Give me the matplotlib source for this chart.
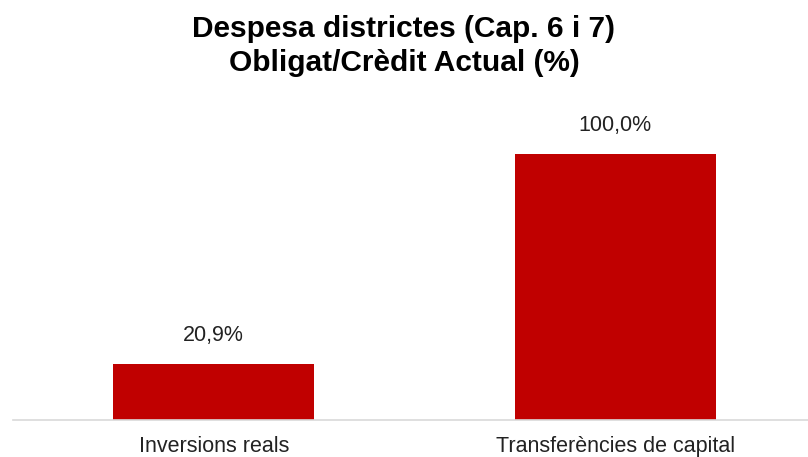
import matplotlib
matplotlib.use("Agg")
from matplotlib import pyplot as plt

categories = ["Inversions reals", "Transferències de capital"]
values = [20.9, 100.0]
value_labels = ["20,9%", "100,0%"]
title_lines = ["Despesa districtes (Cap. 6 i 7)", "Obligat/Crèdit Actual (%)"]

plt.rcParams["font.family"] = ["Liberation Sans", "DejaVu Sans"]

W, H = 808, 457
fig = plt.figure(figsize=(W / 100, H / 100), dpi=100)

# axes placed in pixel terms: baseline at y=419.5, left edge of the axis line at x=13
ax = fig.add_axes([13 / W, 1 - 419.5 / H, (W - 13) / W, (419.5 - 100) / H])

ax.bar(range(len(categories)), values, width=0.5, color="#C00000")
ax.set_xlim(-0.5, 1.48)
ax.set_ylim(0, (419.5 - 100) / 2.655)

for i, (v, lab) in enumerate(zip(values, value_labels)):
    ax.annotate(lab, (i, v), xytext=(0, 13), textcoords="offset points",
                ha="center", va="bottom", fontsize=15.5, color="#222222")

ax.set_xticks(range(len(categories)))
ax.set_xticklabels(categories, fontsize=15.5, color="#222222")
ax.tick_params(axis="x", length=0, pad=12)
ax.set_yticks([])
for s in ["left", "right", "top"]:
    ax.spines[s].set_visible(False)
ax.spines["bottom"].set_color("#d9d9d9")
ax.spines["bottom"].set_linewidth(1.2)

# two title lines, centred on the caps of the reference
for line, yc in zip(title_lines, [26, 60]):
    fig.text(0.5, 1 - yc / H, line, ha="center", va="center_baseline",
             fontsize=21.5, fontweight="bold", color="black")

fig.savefig("out.png", dpi=100)
